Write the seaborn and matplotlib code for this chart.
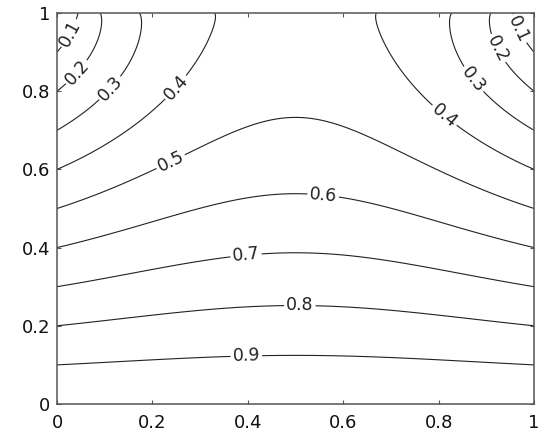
import numpy as np
import matplotlib
matplotlib.use("Agg")
import matplotlib.pyplot as plt
import seaborn as sns

# contour levels shown on the chart
levels = [0.1, 0.2, 0.3, 0.4, 0.5, 0.6, 0.7, 0.8, 0.9]

edge_y = [0.0, 0.1, 0.2, 0.3, 0.4, 0.5, 0.6, 0.7, 0.8, 0.9, 1.0]
edge_u = [1.0, 0.9, 0.8, 0.7, 0.6, 0.5, 0.4, 0.3, 0.2, 0.1, 0.0]

top_x = [0.0, 0.044, 0.09, 0.172, 0.33, 0.5, 0.67, 0.828, 0.91, 0.956, 1.0]
top_u = [0.0, 0.1, 0.2, 0.3, 0.4, 0.45, 0.4, 0.3, 0.2, 0.1, 0.0]

# how strongly the top disturbance reaches into the box (fit to the mid-line crossings)
lam = 3.5

# where the inline labels sit
label_pos = [(0.023, 0.95), (0.04, 0.85), (0.118, 0.80), (0.258, 0.80),
             (0.25, 0.59), (0.557, 0.523), (0.397, 0.37), (0.509, 0.249),
             (0.397, 0.119), (0.964, 0.957), (0.918, 0.906), (0.866, 0.824),
             (0.799, 0.719)]

# field with those boundary values (separation of variables)
xs = np.linspace(0, 1, 301)
ys = np.linspace(0, 1, 301)
X, Y = np.meshgrid(xs, ys)
base = np.interp(Y, edge_y, edge_u)
g = np.interp(xs, top_x, top_u) - np.interp(1.0, edge_y, edge_u)
U = base.copy()
for n in range(1, 120):
    bn = 2 * np.trapezoid(g * np.sin(n * np.pi * xs), xs)
    k = np.sqrt((n * np.pi) ** 2 - lam)
    ratio = np.exp(k * (Y - 1)) * (1 - np.exp(-2 * k * Y)) / (1 - np.exp(-2 * k))
    U += bn * np.sin(n * np.pi * X) * ratio

sns.set_style("ticks")
plt.rcParams['font.family'] = ['DejaVu Sans']

fig = plt.figure(figsize=(5.4, 4.36), dpi=100)
ax = fig.add_axes([0.1056, 0.0734, 0.8834, 0.8968])
cs = ax.contour(X, Y, U, levels=levels, colors='#222222', linewidths=0.8)
ax.clabel(cs, fmt='%.1f', fontsize=12.5, inline=True, manual=label_pos, inline_spacing=2)

ax.set_xlim(0, 1)
ax.set_ylim(0, 1)
ticks = [0, 0.2, 0.4, 0.6, 0.8, 1]
tick_labels = ['0', '0.2', '0.4', '0.6', '0.8', '1']
ax.set_xticks(ticks, tick_labels)
ax.set_yticks(ticks, tick_labels)
ax.tick_params(direction='in', length=3, width=0.8, color='#555555',
               labelsize=13, labelcolor='#111111', top=True, right=True)
ax.tick_params(axis='x', pad=7)
ax.tick_params(axis='y', pad=5)
for sp in ax.spines.values():
    sp.set_color('#555555')
    sp.set_linewidth(1.1)

fig.savefig('out.png', dpi=100)
